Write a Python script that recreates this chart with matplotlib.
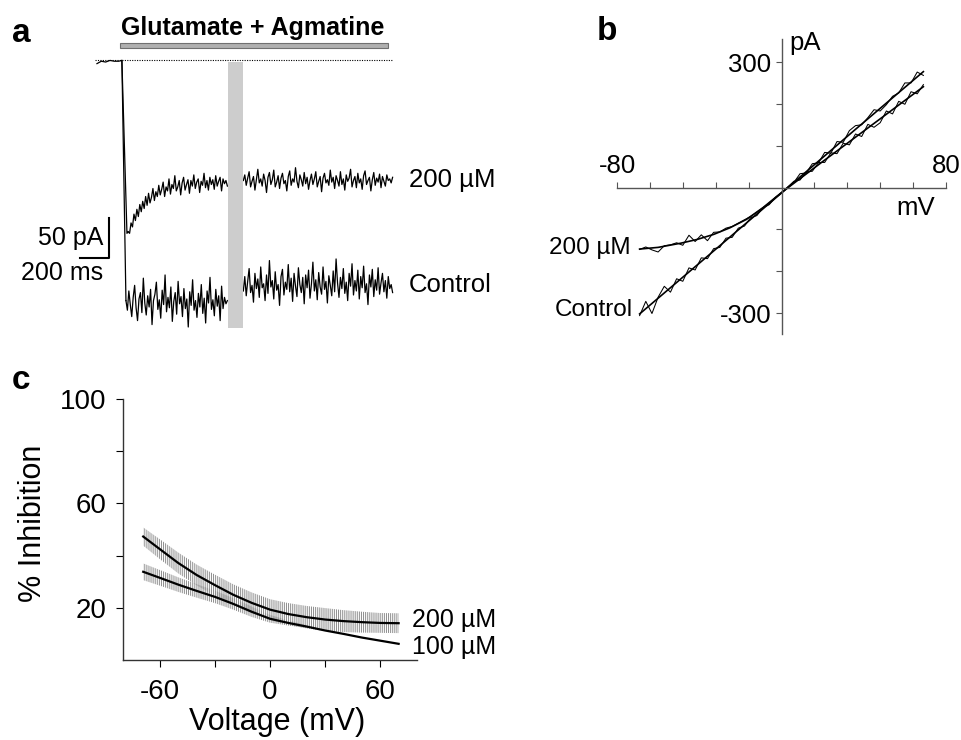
#!/usr/bin/env python3
"""
Agmatine block of glutamate currents: (a) current traces, (b) I-V ramps,
(c) % inhibition vs voltage.  Values read off the original figure.
"""
import numpy as np
import matplotlib
matplotlib.use('Agg')
matplotlib.rcParams.update({
    'font.family': ['Liberation Sans', 'DejaVu Sans'],
    'hatch.linewidth': 0.7,
})
import matplotlib.pyplot as plt
from matplotlib.patches import Rectangle

W, H = 961, 740
MU = '\u00b5'

# ---- panel a: current traces (ms, pA), 10 ms samples ----
pre_t = [0, 30, 60, 90, 120, 150, 172]
pre_i = [-4, -1, -2, 0, -1, -1, 0]

ctrl_seg1 = [-300, -312, -288, -305, -320, -296, -281, -309, -325, -298,
             -290, -315, -272, -303, -318, -294, -308, -286, -330, -300,
             -292, -277, -311, -299, -322, -287, -305, -268, -314, -296,
             -309, -283, -326, -301, -290, -317, -276, -304, -295, -320,
             -285, -310, -298, -333, -289, -306, -274, -312, -300, -321,
             -291, -308, -280, -316, -297, -328, -288, -303, -271, -311,
             -299, -319, -286, -307, -294, -325, -282, -310, -296, -304,
             -300]
ctrl_seg2 = [-288, -270, -294, -276, -260, -290, -281, -302, -266, -285,
             -273, -296, -258, -284, -279, -300, -268, -291, -250, -283,
             -275, -298, -264, -287, -280, -306, -270, -261, -293, -277,
             -286, -255, -289, -272, -301, -266, -282, -295, -259, -280,
             -290, -271, -304, -268, -284, -262, -297, -279, -252, -288,
             -274, -299, -265, -283, -292, -258, -286, -276, -303, -269,
             -281, -294, -263, -289, -248, -278, -296, -271, -285, -260,
             -291, -277, -300, -266, -282, -254, -293, -275, -288, -262,
             -298, -270, -284, -257, -290, -279, -305, -268, -283, -261,
             -295, -274, -287, -259, -292, -278, -266, -289, -275, -297,
             -270, -285, -280, -290]
ago_seg1 = [-214, -216, -203, -208, -192, -200, -186, -195, -180, -189,
            -176, -185, -170, -181, -166, -178, -171, -160, -175, -164,
            -170, -156, -168, -161, -152, -170, -158, -163, -148, -167,
            -155, -160, -144, -163, -158, -150, -168, -153, -146, -162,
            -155, -149, -166, -150, -157, -143, -160, -152, -148, -165,
            -151, -156, -141, -159, -150, -162, -146, -155, -149, -161,
            -144, -157, -151, -146, -163, -148, -154, -150, -157]
ago_seg2 = [-150, -143, -156, -147, -139, -158, -151, -145, -162, -149,
            -136, -153, -148, -157, -142, -150, -165, -146, -140, -155,
            -149, -137, -158, -152, -144, -160, -147, -141, -154, -150,
            -163, -145, -138, -156, -148, -152, -134, -151, -159, -143,
            -149, -157, -140, -154, -146, -161, -150, -142, -155, -148,
            -139, -158, -151, -145, -164, -147, -141, -153, -149, -156,
            -137, -152, -146, -160, -144, -150, -157, -139, -155, -148,
            -162, -143, -151, -147, -136, -158, -150, -145, -159, -141,
            -153, -148, -161, -144, -138, -155, -150, -146, -163, -149,
            -140, -156, -147, -152, -142, -159, -145, -151, -157, -143,
            -150, -148, -153, -146]

# ---- panel b: I-V (mV, pA) ----
iv_v = list(range(-69, 70, 3))
ctrl_raw = [-306, -272, -301, -262, -236, -250, -218, -224, -192, -197, -168,
            -170, -146, -143, -121, -119, -97, -92, -72, -67, -48, -41, -24,
            -13, 1, 12, 33, 35, 57, 59, 84, 82, 110, 108, 136, 148, 150, 167,
            186, 183, 198, 218, 226, 250, 250, 276, 268]
ago_raw = [-148, -142, -149, -154, -139, -137, -132, -138, -114, -129, -113,
           -127, -107, -106, -97, -93, -85, -77, -69, -59, -48, -37, -24, -12,
           1, 15, 18, 37, 39, 60, 60, 83, 81, 106, 102, 128, 122, 151, 144,
           155, 183, 176, 206, 199, 229, 224, 246]
ctrl_fit_v = [-69, -35, 0, 35, 69]
ctrl_fit = [-302, -160, -13, 135, 277]
ago_fit_v = [-69, -60, -49, -41, -33, -25, -17, -9, 0, 20, 40, 69]
ago_fit = [-147, -143, -133, -124, -112, -96, -76, -48, -12, 62, 135, 241]

# ---- panel c: % inhibition ----
inh_v = [-69, -60, -50, -40, -30, -20, -10, 0, 10, 20, 30, 40, 50, 60, 70]
inh_200 = [47.3, 42.5, 37.2, 32.6, 28.7, 25.0, 21.9, 19.3, 17.6, 16.4, 15.5,
           14.9, 14.5, 14.2, 14.1]
sem_200 = [3.5, 3.8, 4.0, 4.0, 4.0, 4.0, 4.0, 4.0, 4.2, 4.3, 4.4, 4.2, 4.0,
           3.8, 3.8]
inh_100 = [33.8, 31.5, 28.9, 26.5, 24.2, 21.5, 18.5, 15.8, 14.2, 12.8, 11.3,
           10.0, 8.6, 7.4, 6.2]
sem_100 = [3.2, 3.0, 2.8, 2.6, 2.4, 2.2, 2.0, 1.5, 1.0, 0.5, 0, 0, 0, 0, 0]


def px_axes(fig, left, top, right, bottom):
    return fig.add_axes([left / W, 1 - bottom / H, (right - left) / W, (bottom - top) / H])


fig = plt.figure(figsize=(W / 100, H / 100), dpi=100)

# ===================== a =====================
ax = px_axes(fig, 0, 10, 440, 335)
ax.set_xlim(-669, 2367)
ax.set_ylim(-343, 63)
ax.axis('off')

trace_kw = dict(color='black', lw=0.9)
ax.plot(pre_t + [200], pre_i + [-300], **trace_kw)
ax.plot([172, 207, 215], [0, -216, ago_seg1[0]], **trace_kw)
ax.plot(np.linspace(200, 900, len(ctrl_seg1)), ctrl_seg1, **trace_kw)
ax.plot(np.linspace(1010, 2040, len(ctrl_seg2)), ctrl_seg2, **trace_kw)
ax.plot(np.linspace(215, 900, len(ago_seg1)), ago_seg1, **trace_kw)
ax.plot(np.linspace(1010, 2040, len(ago_seg2)), ago_seg2, **trace_kw)

ax.plot([-14, 2042], [0, 0], color='black', lw=0.8, ls=(0, (1, 1.2)))
ax.add_patch(Rectangle((904, -334), 103, 332, facecolor='#cdcdcd', edgecolor='none', zorder=3))
ax.add_patch(Rectangle((159, 16), 1849, 6, facecolor='#b0b0b0', edgecolor='#707070', lw=0.8))
ax.text(1076, 40, 'Glutamate + Agmatine', ha='center', va='center',
        fontsize=18, fontweight='bold')

# scale bar
ax.plot([-117, 83, 83], [-247, -247, -197], color='black', lw=1.5)
ax.text(45, -222, '50 pA', ha='right', va='center', fontsize=18)
ax.text(45, -266, '200 ms', ha='right', va='center', fontsize=18)
ax.text(2153, -149, f'200 {MU}M', ha='left', va='center', fontsize=18.5)
ax.text(2153, -280, 'Control', ha='left', va='center', fontsize=18.5)

# ===================== b =====================
ax = px_axes(fig, 617, 39, 946, 334)
ax.set_xlim(-80, 80)
ax.set_ylim(-350, 355)
for s in ['top', 'right']:
    ax.spines[s].set_visible(False)
for s in ['left', 'bottom']:
    ax.spines[s].set_position(('data', 0))
    ax.spines[s].set_color('#555555')
    ax.spines[s].set_linewidth(1.0)
ax.set_xticks(np.arange(-80, 81, 16))
ax.set_xticklabels([])
ax.tick_params(axis='x', direction='in', length=4.5, width=0.8, color='#555555')
ax.set_yticks([-300, -200, -100, 100, 200, 300])
ax.set_yticklabels(['-300', '', '', '', '', '300'], fontsize=18.5)
ax.tick_params(axis='y', direction='out', length=4.5, width=0.8, color='#555555', pad=3)

ax.plot(iv_v, ctrl_raw, color='black', lw=0.75)
ax.plot(iv_v, ago_raw, color='black', lw=0.75)
ax.plot(ctrl_fit_v, ctrl_fit, color='black', lw=1.2)
ax.plot(ago_fit_v, ago_fit, color='black', lw=1.2)

ax.text(-80, 22, '-80', ha='center', va='bottom', fontsize=18.5)
ax.text(80, 22, '80', ha='center', va='bottom', fontsize=18.5)
ax.text(4, 346, 'pA', ha='left', va='center', fontsize=18.5)
ax.text(74.7, -50, 'mV', ha='right', va='center', fontsize=18.5)
ax.text(-73.5, -145, f'200 {MU}M', ha='right', va='center', fontsize=17.5)
ax.text(-72.5, -292, 'Control', ha='right', va='center', fontsize=17.5)

# ===================== c =====================
ax = px_axes(fig, 123, 399, 417, 660)
ax.set_xlim(-80, 80)
ax.set_ylim(0, 100)
for s in ['top', 'right']:
    ax.spines[s].set_visible(False)
for s in ['left', 'bottom']:
    ax.spines[s].set_color('#333333')
    ax.spines[s].set_linewidth(1.0)
ax.set_xticks([-60, -30, 0, 30, 60])
ax.set_xticklabels(['-60', '', '0', '', '60'], fontsize=20)
ax.set_yticks([20, 40, 60, 80, 100])
ax.set_yticklabels(['20', '', '60', '', '100'], fontsize=20)
ax.tick_params(axis='x', length=5, width=0.8, pad=9)
ax.tick_params(axis='y', length=5, width=0.8, pad=7)

lo200 = np.array(inh_200) - np.array(sem_200)
hi200 = np.array(inh_200) + np.array(sem_200)
lo100 = np.array(inh_100) - np.array(sem_100)
hi100 = np.array(inh_100) + np.array(sem_100)
ax.fill_between(inh_v, lo200, hi200, facecolor='none', edgecolor='#8c8c8c',
                hatch='||||||||', linewidth=0)
ax.fill_between(inh_v, lo100, hi100, facecolor='none', edgecolor='#8c8c8c',
                hatch='||||||||', linewidth=0)
ax.plot(inh_v, inh_200, color='black', lw=1.6)
ax.plot(inh_v, inh_100, color='black', lw=1.6)
ax.text(77.3, 15.4, f'200 {MU}M', ha='left', va='center', fontsize=18)
ax.text(77.3, 5.0, f'100 {MU}M', ha='left', va='center', fontsize=18)

fig.text(33 / W, 1 - 523 / H, '% Inhibition', rotation=90, ha='center', va='center', fontsize=22)
fig.text(277 / W, 1 - 722 / H, 'Voltage (mV)', ha='center', va='center', fontsize=22)

# panel letters
fig.text(12 / W, 1 - 34 / H, 'a', ha='left', va='center', fontsize=24, fontweight='bold')
fig.text(597 / W, 1 - 32 / H, 'b', ha='left', va='center', fontsize=24, fontweight='bold')
fig.text(12 / W, 1 - 381 / H, 'c', ha='left', va='center', fontsize=24, fontweight='bold')

fig.savefig('out.png', dpi=100)
